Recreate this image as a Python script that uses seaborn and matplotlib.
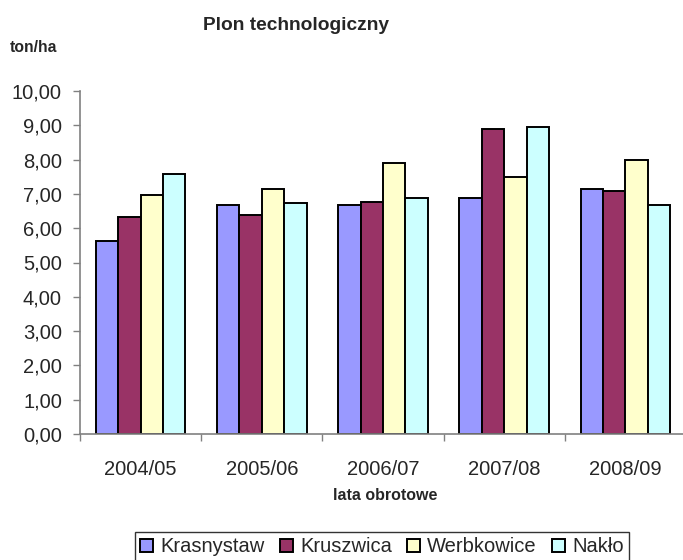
import matplotlib
matplotlib.use("Agg")
import matplotlib.pyplot as plt
from matplotlib.ticker import FuncFormatter, FixedLocator
import seaborn as sns
import pandas as pd

years = ["2004/05", "2005/06", "2006/07", "2007/08", "2008/09"]
krasnystaw = [5.62, 6.68, 6.68, 6.88, 7.13]
kruszwica = [6.33, 6.38, 6.76, 8.89, 7.08]
werbkowice = [6.98, 7.13, 7.89, 7.48, 7.99]
naklo = [7.57, 6.73, 6.88, 8.94, 6.67]
series_names = ["Krasnystaw", "Kruszwica", "Werbkowice", "Nakło"]
colors = ["#9999FF", "#993366", "#FFFFCC", "#CCFFFF"]

rows = []
for name, vals in zip(series_names, [krasnystaw, kruszwica, werbkowice, naklo]):
    for y, v in zip(years, vals):
        rows.append({"rok": y, "seria": name, "plon": v})
df = pd.DataFrame(rows)

sns.set_style("white")
plt.rcParams["font.family"] = ["Liberation Sans", "DejaVu Sans"]

fig = plt.figure(figsize=(6.83, 5.6), dpi=100)
ax = fig.add_axes([80 / 683, 126 / 560, 606 / 683, 343 / 560])

sns.barplot(data=df, x="rok", y="plon", hue="seria", order=years,
            hue_order=series_names, palette=colors, width=0.74,
            edgecolor="black", linewidth=1.4, saturation=1, ax=ax,
            legend=True)

ax.set_ylim(0, 10)
ax.set_xlim(-0.5, 4.5)
ax.yaxis.set_major_locator(FixedLocator([i for i in range(11)]))
ax.yaxis.set_major_formatter(FuncFormatter(lambda v, p: f"{v:.2f}".replace(".", ",")))
ax.tick_params(axis="y", which="major", length=5, width=1, color="#808080",
               direction="out", labelsize=14.5, pad=8, left=True)
ax.tick_params(axis="x", which="major", length=0, labelsize=14.5, pad=19)
ax.set_xticks([i - 0.5 for i in range(6)], minor=True)
ax.tick_params(axis="x", which="minor", length=5, width=1, color="#808080",
               direction="out", bottom=True)

for s in ["top", "right"]:
    ax.spines[s].set_visible(False)
for s in ["left", "bottom"]:
    ax.spines[s].set_color("#808080")
    ax.spines[s].set_linewidth(1.2)

ax.set_xlabel("")
ax.set_ylabel("")

fig.text(296 / 683, 1 - 25 / 560, "Plon technologiczny", ha="center", va="center",
         fontsize=13.8, fontweight="bold")
fig.text(10 / 683, 1 - 47 / 560, "ton/ha", ha="left", va="center",
         fontsize=11.3, fontweight="bold")
fig.text(385 / 683, 1 - 496 / 560, "lata obrotowe", ha="center", va="center",
         fontsize=11.5, fontweight="bold")

handles, labels = ax.get_legend_handles_labels()
ax.legend_.remove()
leg = fig.legend(handles, labels, loc="center", bbox_to_anchor=(382 / 683, 1 - 547 / 560),
                 ncol=4, fontsize=14.5, frameon=True, fancybox=False,
                 edgecolor="black", handlelength=0.65, handleheight=0.65,
                 handletextpad=0.35, columnspacing=0.75, borderpad=0.25,
                 borderaxespad=0)
leg.get_frame().set_linewidth(1.0)

fig.savefig("out.png", dpi=100)
